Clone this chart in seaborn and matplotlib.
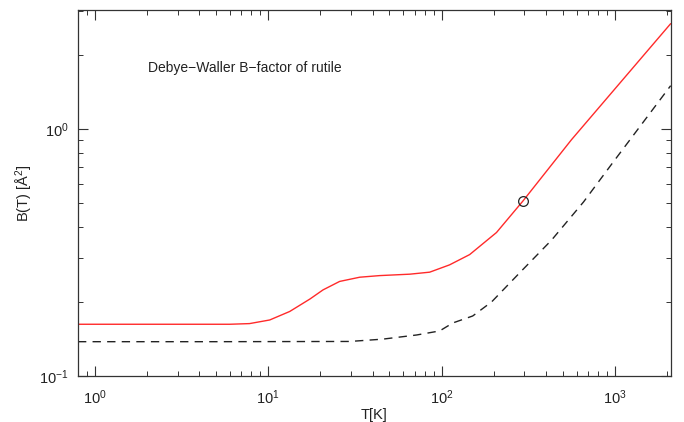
import numpy as np
import pandas as pd
import matplotlib
matplotlib.use("Agg")
import matplotlib.pyplot as plt
import seaborn as sns

# valores (T en K, B en A^2)
T_rojo = [0.8, 3.0, 6.0, 7.8, 10.2, 13.3, 17.4, 20.7, 25.8, 33.7, 43.9, 65.5,
          85.3, 111, 145, 207, 294, 560, 2090]
B_rojo = [0.162, 0.162, 0.162, 0.163, 0.1686, 0.1825, 0.205, 0.2232, 0.2415,
          0.2512, 0.255, 0.2584, 0.2633, 0.2818, 0.3102, 0.381, 0.511, 0.905,
          2.67]

T_discontinua = [0.8, 5.0, 29.5, 45.7, 71.8, 97.3, 116, 151, 194, 285, 430,
                 658, 968, 2090]
B_discontinua = [0.1377, 0.1377, 0.138, 0.141, 0.1466, 0.1522, 0.164, 0.175,
                 0.1995, 0.264, 0.355, 0.507, 0.730, 1.498]

T_punto = [294]
B_punto = [0.511]

df_rojo = pd.DataFrame({"T": T_rojo, "B": B_rojo})
df_disc = pd.DataFrame({"T": T_discontinua, "B": B_discontinua})

sns.set_style("ticks")
plt.rcParams["font.family"] = ["Liberation Sans", "DejaVu Sans"]
plt.rcParams["mathtext.default"] = "regular"
plt.rcParams["axes.edgecolor"] = "#333333"

fig = plt.figure(figsize=(6.84, 4.22), dpi=100)
ax = fig.add_axes([0.114, 0.109, 0.867, 0.867])

sns.lineplot(data=df_rojo, x="T", y="B", color="#ff2a2a", linewidth=1.0, ax=ax)
sns.lineplot(data=df_disc, x="T", y="B", color="#222222", linewidth=1.0,
             linestyle=(0, (6, 4.5)), ax=ax)
ax.plot(T_punto, B_punto, "o", markersize=7, markerfacecolor="none",
        markeredgecolor="#222222", markeredgewidth=0.9)

ax.set_xscale("log")
ax.set_yscale("log")
ax.set_xlim(0.8, 2100)
ax.set_ylim(0.1, 3.03)

ax.tick_params(which="both", direction="in", top=True, right=True,
               labelsize=10.5, colors="#333333", labelcolor="#222222")
ax.tick_params(which="major", length=7, width=0.8)
ax.tick_params(which="minor", length=3.5, width=0.7)
ax.tick_params(axis="x", which="major", pad=9)
ax.tick_params(axis="y", which="major", pad=7)
for s in ax.spines.values():
    s.set_linewidth(0.9)

ax.set_xlabel("T[K]", fontsize=10.5, color="#222222", labelpad=1)
ax.set_ylabel("B(T) [Å$^2$]", fontsize=10.5, color="#222222", labelpad=3)

ax.text(0.118, 0.842, "Debye\u2212Waller B\u2212factor of rutile",
        transform=ax.transAxes, fontsize=10, color="#222222", va="center")

plt.savefig("out.png", dpi=100)
